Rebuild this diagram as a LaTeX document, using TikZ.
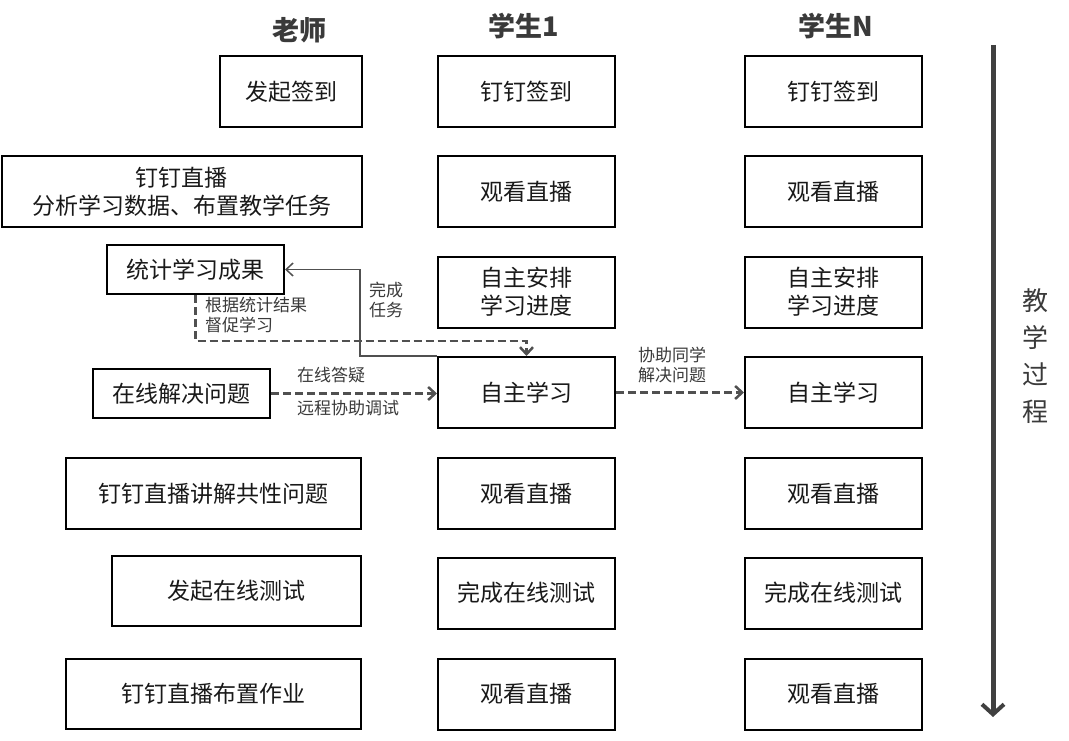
\documentclass[tikz,border=0pt]{standalone}
\usepackage{fontspec}
\setmainfont{Noto Sans CJK SC}
\usetikzlibrary{arrows.meta}
\definecolor{linegray}{HTML}{505050}
\definecolor{txtgray}{HTML}{3A3A3A}
\definecolor{arrowgray}{HTML}{404040}
\tikzset{
  box/.style={draw=black, line width=2pt, inner sep=0pt, align=center,
    font=\fontsize{23}{28}\selectfont, text=black!90},
  sbox/.style={box, minimum width=177pt, minimum height=71pt},
  head/.style={font=\fontsize{27}{30}\selectfont\bfseries, text=txtgray},
  lbl/.style={font=\fontsize{17}{20}\selectfont, text=txtgray, inner sep=0pt, align=left},
  dashline/.style={draw=linegray, line width=2.5pt, dash pattern=on 8pt off 4pt,
    -{Straight Barb[length=7pt,width=13pt,line width=2.5pt]}},
  thinline/.style={draw=linegray, line width=1.5pt,
    -{Straight Barb[length=7pt,width=13pt,line width=1.5pt]}},
}
\begin{document}
\begin{tikzpicture}[x=1pt,y=-1pt]
\useasboundingbox (0,0) rectangle (1069,741);
% headers
\node[head] (h0) at (299,30) {老师};
\node[head] (h1) at (524,26) {学生1};
\node[head] (h2) at (836,26) {学生N};
% teacher column
\node[box, minimum width=142pt, minimum height=71pt] (t1) at (291,91.5) {发起签到};
\node[box, minimum width=360pt, minimum height=71pt] (t2) at (182,191.5) {钉钉直播\\分析学习数据、布置教学任务};
\node[box, minimum width=177pt, minimum height=49pt] (tj) at (195.5,269.5) {统计学习成果};
\node[box, minimum width=177pt, minimum height=49pt] (tz) at (181.5,393.5) {在线解决问题};
\node[box, minimum width=295pt, minimum height=71pt] (t5) at (213.5,493.5) {钉钉直播讲解共性问题};
\node[box, minimum width=249pt, minimum height=70pt] (t6) at (236.5,591) {发起在线测试};
\node[box, minimum width=295pt, minimum height=70pt] (t7) at (213.5,694) {钉钉直播布置作业};
% student 1
\node[sbox] (s1a) at (526.5,91.5) {钉钉签到};
\node[sbox] (s1b) at (526.5,191.5) {观看直播};
\node[sbox] (s1c) at (526.5,292) {自主安排\\学习进度};
\node[sbox] (s1d) at (526.5,392.5) {自主学习};
\node[sbox] (s1e) at (526.5,493.5) {观看直播};
\node[sbox] (s1f) at (526.5,593) {完成在线测试};
\node[sbox] (s1g) at (526.5,694) {观看直播};
% student N
\node[sbox] (sna) at (833.5,91.5) {钉钉签到};
\node[sbox] (snb) at (833.5,191.5) {观看直播};
\node[sbox] (snc) at (833.5,292) {自主安排\\学习进度};
\node[sbox] (snd) at (833.5,392.5) {自主学习};
\node[sbox] (sne) at (833.5,493.5) {观看直播};
\node[sbox] (snf) at (833.5,593) {完成在线测试};
\node[sbox] (sng) at (833.5,694) {观看直播};
% connectors
\draw[thinline] (s1d.north west) -- ++(-77,0) |- (tj.east);
\node[lbl, align=center] (l1) at (386,299.5) {完成\\任务};
\draw[dashline] (tj.south) -- ++(0,46) -| (s1d.north);
\node[lbl, anchor=west] (l2) at (205,315) {根据统计结果\\督促学习};
\draw[dashline] (tz.east) -- (tz.east -| s1d.west);
\node[lbl, anchor=west] (l3) at (297,375) {在线答疑};
\node[lbl, anchor=west] (l4) at (297,408) {远程协助调试};
\draw[dashline] (s1d.east) -- (snd.west);
\node[lbl, anchor=west] (l5) at (638,365) {协助同学\\解决问题};
% process arrow
\coordinate (pa) at (993,45);
\coordinate (pb) at (993,717);
\draw[draw=arrowgray, line width=5pt, -{Straight Barb[length=10pt,width=22pt,line width=4pt]}] (pa) -- (pb);
\node[font=\fontsize{26}{37}\selectfont, text=txtgray, align=center, inner sep=0pt] (pl) at (1035,356) {教\\学\\过\\程};
\end{tikzpicture}
\end{document}
